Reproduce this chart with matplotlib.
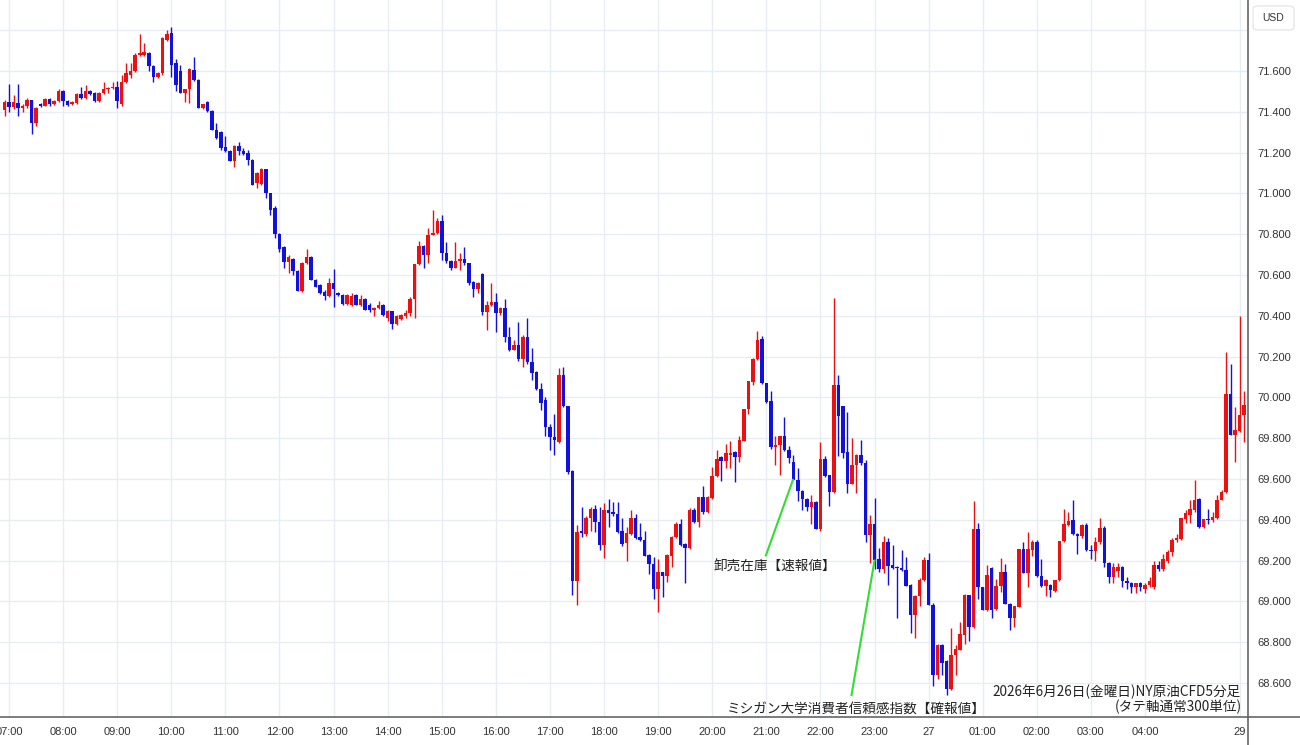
import numpy as np
import matplotlib
matplotlib.use("Agg")
import matplotlib.pyplot as plt
from matplotlib.lines import Line2D
from matplotlib.patches import FancyBboxPatch

# NY crude CFD, 5-minute bars. index 0 = 07:00 (Fri 26th), first bar at index -1
first_index = -1

opens = [
    71.41, 71.45, 71.425, 71.445, 71.42, 71.43, 71.46, 71.345, 71.44, 71.43, 71.465, 71.44,
    71.455, 71.50, 71.455, 71.44, 71.445, 71.485, 71.47, 71.50, 71.49, 71.455, 71.49, 71.51,
    71.515, 71.52, 71.44, 71.548, 71.58, 71.60, 71.68, 71.68, 71.69, 71.626, 71.57, 71.59,
    71.75, 71.785, 71.64, 71.60, 71.49, 71.51, 71.605, 71.555, 71.42, 71.45, 71.405, 71.31,
    71.30, 71.225, 71.21, 71.16, 71.23, 71.21, 71.20, 71.165, 71.05, 71.045, 71.118, 71.0,
    70.927, 70.80, 70.735, 70.665, 70.68, 70.62, 70.52, 70.66, 70.69, 70.575, 70.55, 70.515,
    70.495, 70.56, 70.51, 70.50, 70.46, 70.455, 70.50, 70.455, 70.48, 70.455, 70.43, 70.44,
    70.455, 70.39, 70.423, 70.36, 70.385, 70.40, 70.415, 70.48, 70.655, 70.74, 70.70, 70.797,
    70.805, 70.867, 70.71, 70.667, 70.634, 70.667, 70.678, 70.658, 70.565, 70.53, 70.606, 70.42,
    70.453, 70.469, 70.412, 70.436, 70.297, 70.232, 70.256, 70.186, 70.297, 70.174, 70.125, 70.039,
    69.986, 69.855, 69.806, 69.78, 70.109, 69.957, 69.64, 69.10, 69.345, 69.328, 69.41, 69.455,
    69.389, 69.274, 69.45, 69.44, 69.43, 69.346, 69.285, 69.33, 69.41, 69.315, 69.30, 69.227,
    69.183, 69.06, 69.142, 69.126, 69.224, 69.314, 69.38, 69.28, 69.26, 69.45, 69.39, 69.51,
    69.437, 69.505, 69.613, 69.706, 69.69, 69.715, 69.73, 69.71, 69.785, 69.943, 70.074, 70.188,
    70.286, 70.07, 69.98, 69.757, 69.765, 69.81, 69.74, 69.682, 69.597, 69.54, 69.50, 69.464,
    69.487, 69.356, 69.70, 69.617, 69.535, 70.062, 69.956, 69.734, 69.576, 69.669, 69.718, 69.677,
    69.326, 69.38, 69.207, 69.158, 69.289, 69.18, 69.17, 69.165, 69.155, 69.082, 68.935, 69.025,
    69.106, 69.204, 68.984, 68.641, 68.788, 68.706, 68.568, 68.739, 68.763, 68.837, 69.029, 68.874,
    69.356, 69.07, 68.959, 69.165, 68.964, 69.073, 69.143, 68.988, 68.92, 68.972, 69.258, 69.139,
    69.25, 69.29, 69.122, 69.073, 69.078, 69.05, 69.103, 69.294, 69.372, 69.397, 69.33, 69.318,
    69.372, 69.25, 69.246, 69.29, 69.36, 69.19, 69.12, 69.15, 69.17, 69.10, 69.09, 69.07,
    69.09, 69.06, 69.08, 69.07, 69.18, 69.16, 69.20, 69.24, 69.30, 69.305, 69.403, 69.425,
    69.446, 69.501, 69.364, 69.403, 69.397, 69.408, 69.498, 69.534, 70.018, 69.817, 69.833, 69.915,
]

highs = [
    71.46, 71.535, 71.48, 71.535, 71.44, 71.47, 71.46, 71.425, 71.445, 71.47, 71.47, 71.46,
    71.51, 71.505, 71.46, 71.455, 71.49, 71.52, 71.53, 71.505, 71.495, 71.495, 71.545, 71.52,
    71.545, 71.55, 71.58, 71.638, 71.64, 71.687, 71.78, 71.735, 71.695, 71.63, 71.595, 71.765,
    71.80, 71.815, 71.66, 71.63, 71.51, 71.615, 71.67, 71.56, 71.44, 71.455, 71.41, 71.345,
    71.305, 71.28, 71.215, 71.235, 71.25, 71.22, 71.215, 71.17, 71.107, 71.125, 71.12, 71.0,
    70.94, 70.805, 70.74, 70.70, 70.685, 70.625, 70.665, 70.725, 70.695, 70.58, 70.555, 70.525,
    70.585, 70.63, 70.515, 70.505, 70.505, 70.51, 70.505, 70.50, 70.485, 70.465, 70.445, 70.47,
    70.46, 70.43, 70.425, 70.405, 70.41, 70.43, 70.49, 70.655, 70.765, 70.745, 70.83, 70.92,
    70.878, 70.894, 70.76, 70.675, 70.76, 70.707, 70.737, 70.66, 70.57, 70.565, 70.61, 70.47,
    70.562, 70.51, 70.445, 70.48, 70.346, 70.28, 70.371, 70.305, 70.387, 70.24, 70.13, 70.07,
    70.0, 69.87, 69.918, 70.142, 70.15, 69.96, 69.645, 69.373, 69.462, 69.417, 69.462, 69.47,
    69.462, 69.48, 69.50, 69.485, 69.485, 69.41, 69.363, 69.45, 69.43, 69.385, 69.347, 69.23,
    69.216, 69.208, 69.145, 69.232, 69.318, 69.388, 69.404, 69.285, 69.46, 69.46, 69.51, 69.567,
    69.515, 69.657, 69.744, 69.714, 69.773, 69.785, 69.735, 69.81, 69.945, 70.079, 70.193, 70.323,
    70.30, 70.072, 70.03, 69.81, 69.812, 69.904, 69.76, 69.715, 69.654, 69.545, 69.505, 69.52,
    69.49, 69.78, 69.712, 69.62, 70.486, 70.11, 69.96, 69.93, 69.80, 69.72, 69.79, 69.693,
    69.424, 69.506, 69.261, 69.318, 69.31, 69.277, 69.172, 69.253, 69.217, 69.085, 69.03, 69.114,
    69.217, 69.237, 68.99, 68.79, 68.79, 68.71, 68.87, 68.788, 68.897, 69.035, 69.03, 69.49,
    69.384, 69.072, 69.176, 69.17, 69.11, 69.214, 69.181, 68.99, 68.978, 69.258, 69.29, 69.34,
    69.30, 69.30, 69.209, 69.11, 69.085, 69.105, 69.294, 69.454, 69.438, 69.495, 69.335, 69.38,
    69.384, 69.274, 69.315, 69.41, 69.37, 69.195, 69.19, 69.19, 69.175, 69.12, 69.095, 69.09,
    69.095, 69.09, 69.12, 69.20, 69.20, 69.23, 69.25, 69.31, 69.33, 69.41, 69.446, 69.498,
    69.596, 69.505, 69.405, 69.452, 69.44, 69.522, 69.547, 70.22, 70.163, 69.952, 70.40, 70.029,
]

lows = [
    71.38, 71.40, 71.415, 71.38, 71.40, 71.42, 71.29, 71.33, 71.425, 71.43, 71.43, 71.435,
    71.45, 71.43, 71.43, 71.435, 71.44, 71.465, 71.465, 71.48, 71.45, 71.45, 71.485, 71.49,
    71.51, 71.42, 71.43, 71.54, 71.565, 71.595, 71.675, 71.675, 71.60, 71.548, 71.565, 71.58,
    71.745, 71.57, 71.50, 71.49, 71.45, 71.445, 71.55, 71.42, 71.415, 71.40, 71.31, 71.265,
    71.215, 71.205, 71.16, 71.13, 71.19, 71.19, 71.14, 71.04, 71.025, 71.04, 70.977, 70.895,
    70.78, 70.715, 70.633, 70.61, 70.60, 70.52, 70.515, 70.655, 70.575, 70.54, 70.505, 70.475,
    70.49, 70.445, 70.495, 70.455, 70.455, 70.45, 70.455, 70.45, 70.43, 70.42, 70.40, 70.435,
    70.40, 70.375, 70.333, 70.355, 70.38, 70.39, 70.40, 70.39, 70.65, 70.634, 70.66, 70.795,
    70.80, 70.675, 70.66, 70.626, 70.634, 70.626, 70.65, 70.55, 70.49, 70.51, 70.405, 70.33,
    70.45, 70.322, 70.405, 70.273, 70.225, 70.23, 70.18, 70.15, 70.165, 70.084, 70.035, 69.937,
    69.81, 69.74, 69.716, 69.775, 69.955, 69.626, 69.03, 68.98, 69.315, 69.318, 69.345, 69.34,
    69.25, 69.214, 69.363, 69.42, 69.335, 69.27, 69.20, 69.325, 69.305, 69.295, 69.22, 69.134,
    69.01, 68.95, 69.02, 69.097, 69.167, 69.31, 69.27, 69.09, 69.255, 69.385, 69.363, 69.43,
    69.432, 69.50, 69.61, 69.592, 69.654, 69.654, 69.584, 69.682, 69.785, 69.92, 70.06, 70.185,
    70.065, 69.972, 69.747, 69.666, 69.617, 69.735, 69.679, 69.594, 69.49, 69.45, 69.443, 69.377,
    69.353, 69.344, 69.61, 69.467, 69.532, 69.712, 69.703, 69.533, 69.575, 69.53, 69.67, 69.289,
    69.188, 69.158, 69.142, 69.139, 69.082, 69.16, 68.918, 69.15, 69.075, 68.845, 68.82, 68.976,
    69.10, 68.984, 68.584, 68.617, 68.641, 68.543, 68.565, 68.641, 68.76, 68.793, 68.808, 68.87,
    69.013, 68.956, 68.955, 68.92, 68.96, 69.045, 68.985, 68.861, 68.874, 68.97, 69.138, 69.07,
    69.22, 69.12, 69.07, 69.024, 69.021, 69.045, 69.10, 69.29, 69.37, 69.325, 69.233, 69.31,
    69.248, 69.209, 69.20, 69.28, 69.17, 69.09, 69.09, 69.12, 69.07, 69.06, 69.04, 69.04,
    69.05, 69.04, 69.07, 69.06, 69.15, 69.15, 69.19, 69.22, 69.29, 69.30, 69.384, 69.384,
    69.44, 69.36, 69.36, 69.38, 69.39, 69.405, 69.495, 69.53, 69.815, 69.681, 69.83, 69.779,
]

closes = [
    71.45, 71.425, 71.45, 71.42, 71.43, 71.46, 71.345, 71.42, 71.43, 71.465, 71.44, 71.455,
    71.50, 71.455, 71.435, 71.45, 71.485, 71.47, 71.50, 71.485, 71.455, 71.49, 71.51, 71.515,
    71.52, 71.455, 71.548, 71.59, 71.60, 71.68, 71.687, 71.695, 71.626, 71.57, 71.59, 71.76,
    71.78, 71.63, 71.53, 71.49, 71.51, 71.61, 71.555, 71.42, 71.438, 71.405, 71.31, 71.27,
    71.22, 71.21, 71.16, 71.23, 71.21, 71.195, 71.165, 71.04, 71.10, 71.118, 71.0, 70.92,
    70.80, 70.726, 70.665, 70.69, 70.62, 70.52, 70.66, 70.69, 70.575, 70.543, 70.51, 70.495,
    70.56, 70.53, 70.50, 70.46, 70.50, 70.495, 70.455, 70.48, 70.43, 70.43, 70.44, 70.455,
    70.405, 70.423, 70.36, 70.40, 70.405, 70.415, 70.48, 70.655, 70.74, 70.70, 70.797, 70.805,
    70.867, 70.707, 70.667, 70.634, 70.667, 70.678, 70.658, 70.56, 70.53, 70.56, 70.42, 70.453,
    70.469, 70.412, 70.436, 70.297, 70.232, 70.256, 70.186, 70.297, 70.174, 70.12, 70.039, 69.97,
    69.855, 69.806, 69.79, 70.11, 69.957, 69.634, 69.10, 69.34, 69.335, 69.41, 69.455, 69.389,
    69.274, 69.45, 69.433, 69.43, 69.34, 69.28, 69.334, 69.41, 69.31, 69.30, 69.224, 69.183,
    69.06, 69.142, 69.126, 69.227, 69.314, 69.38, 69.276, 69.26, 69.45, 69.387, 69.51, 69.437,
    69.51, 69.613, 69.698, 69.69, 69.727, 69.728, 69.708, 69.79, 69.943, 70.079, 70.188, 70.28,
    70.07, 69.976, 69.757, 69.765, 69.81, 69.74, 69.703, 69.597, 69.54, 69.50, 69.464, 69.487,
    69.356, 69.70, 69.614, 69.535, 70.062, 69.91, 69.728, 69.576, 69.669, 69.718, 69.677, 69.326,
    69.38, 69.204, 69.158, 69.289, 69.175, 69.163, 69.163, 69.155, 69.077, 68.935, 69.025, 69.106,
    69.204, 68.984, 68.641, 68.788, 68.698, 68.568, 68.739, 68.767, 68.842, 69.033, 68.874, 69.356,
    69.07, 68.959, 69.127, 68.959, 69.073, 69.143, 68.988, 68.92, 68.975, 69.258, 69.139, 69.258,
    69.29, 69.122, 69.073, 69.106, 69.054, 69.103, 69.294, 69.38, 69.393, 69.328, 69.318, 69.372,
    69.25, 69.246, 69.29, 69.36, 69.19, 69.12, 69.17, 69.17, 69.10, 69.09, 69.07, 69.09,
    69.07, 69.08, 69.10, 69.18, 69.16, 69.21, 69.24, 69.30, 69.31, 69.408, 69.433, 69.452,
    69.498, 69.364, 69.403, 69.397, 69.413, 69.498, 69.534, 70.018, 69.817, 69.838, 69.915, 69.964,
]

time_tick_pos = [0, 12, 24, 36, 48, 60, 72, 84, 96, 108, 120, 132, 144, 156, 168, 180,
                 192, 204, 216, 228, 240, 252, 273]
time_tick_labels = ["07:00", "08:00", "09:00", "10:00", "11:00", "12:00", "13:00", "14:00",
                    "15:00", "16:00", "17:00", "18:00", "19:00", "20:00", "21:00", "22:00",
                    "23:00", "27", "01:00", "02:00", "03:00", "04:00", "29"]
price_ticks = [68.6, 68.8, 69.0, 69.2, 69.4, 69.6, 69.8, 70.0, 70.2, 70.4,
               70.6, 70.8, 71.0, 71.2, 71.4, 71.6, 71.8]

UP = "#ec1010"
DOWN = "#1010e0"
GRID = "#e6edf3"
AXIS = "#666666"
JP = ["Noto Sans CJK JP", "DejaVu Sans"]

plt.rcParams["font.family"] = ["Liberation Sans", "DejaVu Sans"]

o = np.array(opens)
h = np.array(highs)
l = np.array(lows)
c = np.array(closes)
idx = np.arange(first_index, first_index + len(c))
colors = np.where(c >= o, UP, DOWN)

W, H = 1300, 745
fig = plt.figure(figsize=(W / 100, H / 100), dpi=100)
ax = fig.add_axes([0, 28 / H, 1248 / W, 717 / H])

# candles
ax.vlines(idx, l, h, colors=colors, lw=1.0, zorder=2)
body_lo = np.minimum(o, c)
body_h = np.maximum(np.abs(c - o), 0.005)
ax.bar(idx, body_h, bottom=body_lo, width=0.78, color=colors, lw=0, zorder=3)

ax.set_xlim(-2.0, 274.85)
ax.set_ylim(68.433, 71.948)

ax.set_xticks(time_tick_pos)
ax.set_xticklabels(time_tick_labels)
ax.set_yticks(price_ticks)
ax.set_yticklabels([f"{p:.3f}" if p < 71.7 else "" for p in price_ticks])
ax.yaxis.tick_right()
ax.tick_params(axis="y", length=0, pad=7, labelsize=8, labelcolor="#333333")
ax.tick_params(axis="x", length=0, pad=7, labelsize=8, labelcolor="#333333")

ax.grid(True, color=GRID, lw=1)
ax.set_axisbelow(True)
for s in ["top", "left"]:
    ax.spines[s].set_visible(False)
for s in ["right", "bottom"]:
    ax.spines[s].set_color(AXIS)
    ax.spines[s].set_linewidth(1.2)

# axis lines continue past the plot area
fig.add_artist(Line2D([1248 / W, 1], [28 / H, 28 / H], transform=fig.transFigure,
                      color=AXIS, lw=1.2))
fig.add_artist(Line2D([1248 / W, 1248 / W], [0, 28 / H], transform=fig.transFigure,
                      color=AXIS, lw=1.2))

# currency box
fig.add_artist(FancyBboxPatch((1253 / W, 1 - 30 / H), 41 / W, 24 / H,
                              boxstyle="round,pad=0,rounding_size=0.004",
                              transform=fig.transFigure, fc="white", ec="#e2e2e2", lw=0.8))
fig.text(1273.5 / W, 1 - 18 / H, "USD", ha="center", va="center", fontsize=7.5, color="#333333")

# event annotations
ax.plot([167.9, 173.9], [69.225, 69.595], color="#33dd33", lw=1.5, zorder=4)
ax.text(169.9, 69.172, "卸売在庫【速報値】", ha="center", va="center",
        fontsize=9.8, family=JP, color="#222222", zorder=5)
ax.plot([186.9, 192.0], [68.541, 69.2], color="#33dd33", lw=1.5, zorder=4)
ax.text(187.9, 68.475, "ミシガン大学消費者信頼感指数【確報値】", ha="center", va="center",
        fontsize=9.8, family=JP, color="#222222", zorder=5)

fig.text(1241 / W, 1 - 692 / H, "2026年6月26日(金曜日)NY原油CFD5分足", ha="right", va="center",
         fontsize=9.8, family=JP, color="#222222")
fig.text(1242 / W, 1 - 707 / H, "(タテ軸通常300単位)", ha="right", va="center",
         fontsize=9.8, family=JP, color="#222222")

fig.savefig("out.png", dpi=100)
